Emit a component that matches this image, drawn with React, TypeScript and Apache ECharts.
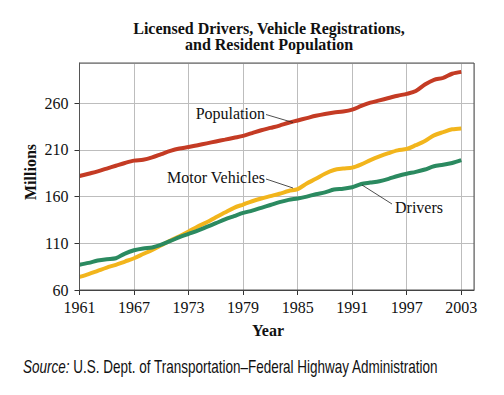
import React, { useEffect, useRef } from "react";
import * as echarts from "echarts";

const years: number[] = [
  1961, 1962, 1963, 1964, 1965, 1966, 1967, 1968, 1969, 1970,
  1971, 1972, 1973, 1974, 1975, 1976, 1977, 1978, 1979, 1980,
  1981, 1982, 1983, 1984, 1985, 1986, 1987, 1988, 1989, 1990,
  1991, 1992, 1993, 1994, 1995, 1996, 1997, 1998, 1999, 2000,
  2001, 2002, 2003,
];

const population: number[] = [
  182, 184.5, 187, 190, 193, 196, 198.5, 199.5, 202, 205.5,
  209, 211.5, 213, 215, 217, 219, 221, 223, 225, 228,
  231, 233.5, 236, 239, 241.5, 244, 246.5, 248.5, 250, 251,
  253, 257, 260.5, 263, 265.5, 268, 270, 273, 280, 285,
  287, 291.5, 293.5,
];

const motorVehicles: number[] = [
  74, 77, 80.5, 84, 87, 90.5, 94, 98.5, 103, 108,
  113, 117.5, 122.5, 128, 132.5, 138, 143, 148, 151.5, 155,
  158, 160.5, 163, 166, 168, 174, 179, 184.5, 188.5, 190,
  191, 194.5, 199, 203, 206.5, 209.5, 211, 215, 219.5, 225.5,
  229, 232, 233,
];

const drivers: number[] = [
  87, 89, 91.5, 93, 94, 99, 102.5, 104.5, 105.5, 108.5,
  112.5, 116.5, 120, 123.5, 127.5, 131.5, 135.5, 139, 142.5, 145,
  148, 151, 154, 156.5, 158, 160, 162.5, 164.5, 167.5, 168.5,
  170, 173.5, 175, 176.5, 179, 182, 184.5, 186.5, 189, 192.5,
  194, 196, 199,
];

const yTicks = [60, 110, 160, 210, 260];
const xTicks = [1961, 1967, 1973, 1979, 1985, 1991, 1997, 2003];

const SERIF = "'Liberation Serif', 'Times New Roman', serif";
const SANS = "'Liberation Sans', Arial, sans-serif";

export default function App() {
  const ref = useRef<HTMLDivElement>(null);
  useEffect(() => {
    if (!ref.current) return;
    const chart = echarts.init(ref.current, null, { renderer: "svg" });
    const pair = (arr: number[]) => years.map((y, i) => [y, arr[i]]);
    const mkSeries = (name: string, arr: number[], color: string) => ({
      name,
      type: "line",
      data: pair(arr),
      showSymbol: false,
      smooth: 0.3,
      lineStyle: { color, width: 4 },
      itemStyle: { color },
      z: 3,
    });
    const txt = (
      text: string,
      x: number,
      y: number,
      font: string,
      align: string,
      extra: any = {}
    ) => ({
      type: "text",
      x,
      y,
      z: 10,
      ...extra,
      style: {
        text,
        font,
        fill: "#111",
        textAlign: align,
        textVerticalAlign: "middle",
      },
    });
    chart.setOption({
      animation: false,
      backgroundColor: "#fff",
      grid: {
        left: 79.5,
        right: 30,
        top: 63,
        bottom: 105,
        show: true,
        borderColor: "#555",
        borderWidth: 1,
        backgroundColor: "transparent",
        z: 5,
      },
      xAxis: {
        type: "value",
        min: xTicks[0],
        max: 2004.4,
        interval: 6,
        axisLine: { show: true, lineStyle: { color: "#333", width: 1 } },
        axisTick: { show: true, length: 5, lineStyle: { color: "#333" } },
        axisLabel: {
          showMaxLabel: false,
          margin: 9,
          fontFamily: SERIF,
          fontSize: 16,
          color: "#111",
          formatter: (v: number) => String(Math.round(v)),
        },
        splitLine: { show: true, lineStyle: { color: "#bdbdbd", width: 1 } },
      },
      yAxis: {
        type: "value",
        min: yTicks[0],
        max: 303,
        interval: 50,
        axisLine: { show: true, lineStyle: { color: "#333", width: 1 } },
        axisTick: { show: true, length: 5, lineStyle: { color: "#333" } },
        axisLabel: {
          showMaxLabel: false,
          margin: 11,
          fontFamily: SERIF,
          fontSize: 16,
          color: "#111",
        },
        splitLine: { show: true, lineStyle: { color: "#bdbdbd", width: 1 } },
      },
      series: [
        mkSeries("Population", population, "#c43b24"),
        mkSeries("Motor Vehicles", motorVehicles, "#f2b51c"),
        mkSeries("Drivers", drivers, "#2b8a60"),
      ],
      graphic: [
        txt("Licensed Drivers, Vehicle Registrations,", 269, 28, `bold 16px ${SERIF}`, "center"),
        txt("and Resident Population", 269, 44, `bold 16px ${SERIF}`, "center"),
        txt("Millions", 30, 172, `bold 16px ${SERIF}`, "center", { rotation: Math.PI / 2 }),
        txt("Year", 268, 330, `bold 16px ${SERIF}`, "center"),
        txt("Population", 265, 113, `16px ${SERIF}`, "right"),
        {
          type: "line",
          z: 10,
          shape: { x1: 266, y1: 114.5, x2: 293, y2: 122.5 },
          style: { stroke: "#222", lineWidth: 0.8 },
        },
        txt("Motor Vehicles", 265, 177, `16px ${SERIF}`, "right"),
        {
          type: "line",
          z: 10,
          shape: { x1: 266, y1: 179, x2: 293, y2: 188 },
          style: { stroke: "#222", lineWidth: 0.8 },
        },
        txt("Drivers", 395, 207, `16px ${SERIF}`, "left"),
        {
          type: "line",
          z: 10,
          shape: { x1: 362, y1: 185, x2: 392, y2: 204 },
          style: { stroke: "#222", lineWidth: 0.8 },
        },
        {
          type: "text",
          x: 23,
          y: 367,
          scaleX: 0.75,
          style: {
            rich: {
              it: {
                fontFamily: SANS,
                fontStyle: "italic",
                fontSize: 18,
                fill: "#111",
              },
              n: {
                fontFamily: SANS,
                fontSize: 18,
                fill: "#111",
              },
            },
            text: "{it|Source:}{n| U.S. Dept. of Transportation–Federal Highway Administration}",
            textAlign: "left",
            textVerticalAlign: "middle",
          },
        },
      ],
    });
    return () => chart.dispose();
  }, []);
  return (
    <div
      ref={ref}
      style={{ position: "absolute", left: 0, top: 0, width: 504, height: 395 }}
    />
  );
}
